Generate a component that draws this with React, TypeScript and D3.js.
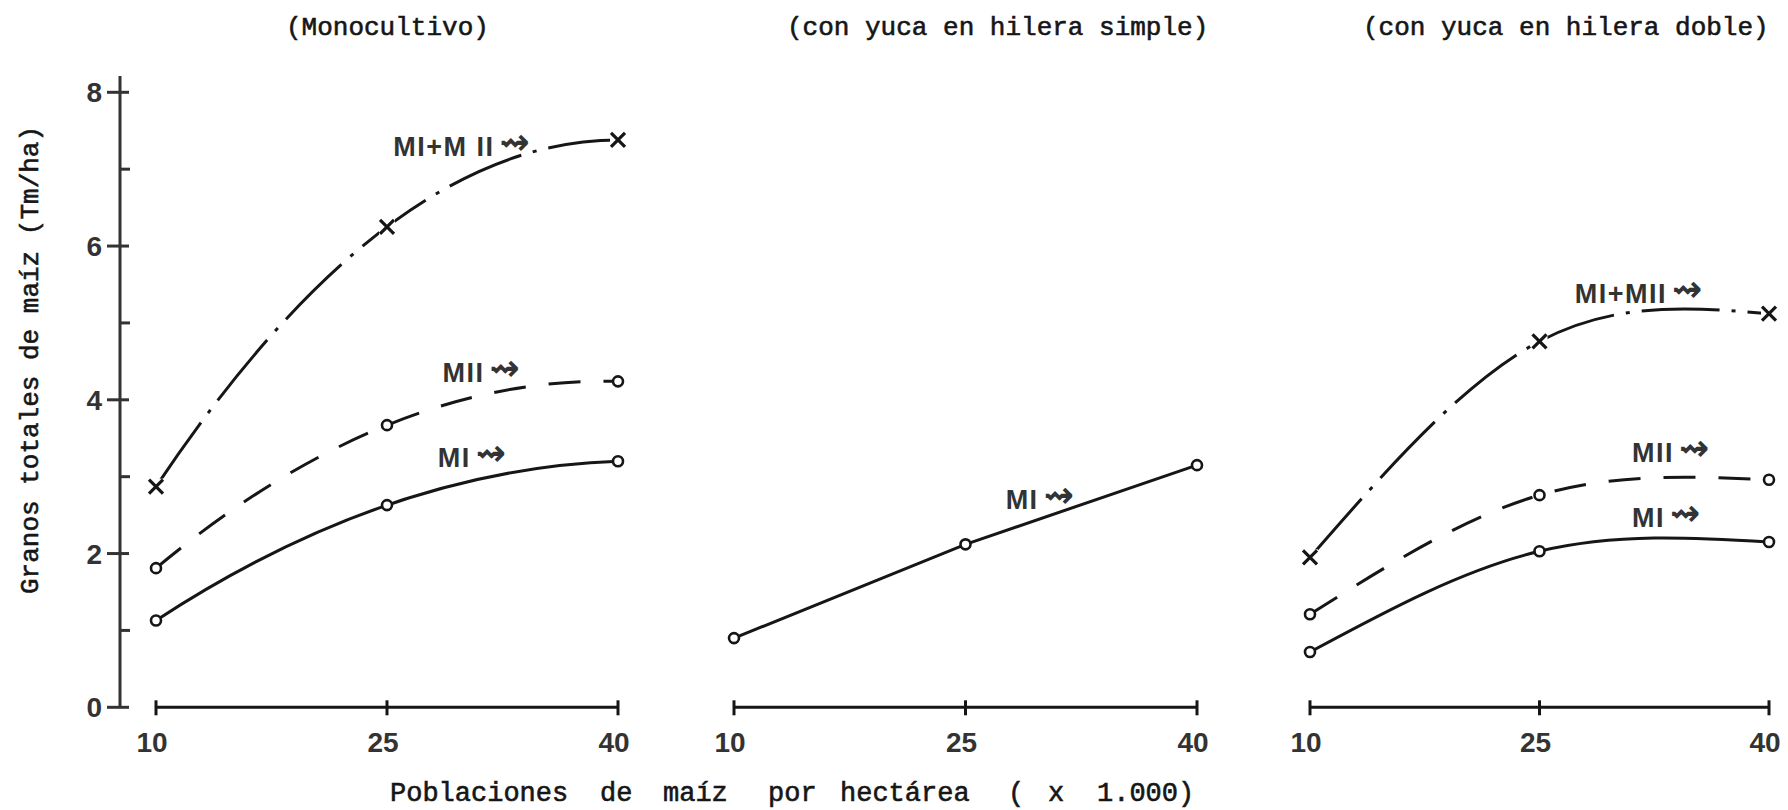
import React from 'react';
import * as d3 from 'd3';

// ---------- data ----------
const populations = [10, 25, 40];
const monoMI = [1.13, 2.63, 3.2];
const monoMII = [1.81, 3.67, 4.24];
const monoTotal = [2.87, 6.25, 7.38];
const simpleMI = [0.9, 2.12, 3.15];
const dobleMI = [0.72, 2.03, 2.15];
const dobleMII = [1.21, 2.76, 2.96];
const dobleTotal = [1.95, 4.76, 5.12];
const yMajorTicks = [0, 2, 4, 6, 8];
const yMinorTicks = [1, 3, 5, 7];
const xTickLabels = ['10', '25', '40'];
const panelTitles = ['(Monocultivo)', '(con yuca en hilera simple)', '(con yuca en hilera doble)'];
const yTitle = 'Granos totales de maíz (Tm/ha)';
const xTitleWords = ['Poblaciones', 'de', 'maíz', 'por', 'hectárea', '(', 'x', '1.000)'];

// ---------- layout ----------
const W = 1788;
const H = 810;
const panelRanges: [number, number][] = [[156, 618], [734, 1197], [1310, 1769]];
const titleX = [286, 787, 1363];
const xTitleX = [390, 600, 663, 768, 840, 1008, 1048, 1097];
const yAxisX = 120;

const MONO = '"Liberation Mono", "Courier New", monospace';
const SANS = '"Liberation Sans", Arial, sans-serif';

type Series = {
  panel: number;
  values: number[];
  kind: 'solid' | 'dashed' | 'dashdot';
  marker: 'circle' | 'x';
  curve: 'parabola' | 'natural' | 'linear';
  label: string;
  lx: number;
  ly: number;
};

const series: Series[] = [
  { panel: 0, values: monoMI, kind: 'solid', marker: 'circle', curve: 'parabola', label: 'MI', lx: 28.3, ly: 3.13 },
  { panel: 0, values: monoMII, kind: 'dashed', marker: 'circle', curve: 'parabola', label: 'MII', lx: 28.6, ly: 4.23 },
  { panel: 0, values: monoTotal, kind: 'dashdot', marker: 'x', curve: 'parabola', label: 'MI+M II', lx: 25.4, ly: 7.17 },
  { panel: 1, values: simpleMI, kind: 'solid', marker: 'circle', curve: 'linear', label: 'MI', lx: 27.6, ly: 2.58 },
  { panel: 2, values: dobleMI, kind: 'solid', marker: 'circle', curve: 'natural', label: 'MI', lx: 31.05, ly: 2.35 },
  { panel: 2, values: dobleMII, kind: 'dashed', marker: 'circle', curve: 'natural', label: 'MII', lx: 31.05, ly: 3.19 },
  { panel: 2, values: dobleTotal, kind: 'dashdot', marker: 'x', curve: 'natural', label: 'MI+MII', lx: 27.3, ly: 5.26 },
];

const dashFor: Record<string, string | undefined> = {
  solid: undefined,
  dashed: '32 23',
  dashdot: '78 12 4 12',
};

const yScale = d3.scaleLinear().domain([0, 8]).range([707.3, 92.3]);
const xScales = panelRanges.map((r) => d3.scaleLinear().domain([10, 40]).range(r));

function curvePath(s: Series): string {
  const xs = xScales[s.panel];
  const pts: [number, number][] = populations.map((p, i) => [xs(p), yScale(s.values[i])]);
  if (s.curve === 'parabola') {
    // parabola through the three points, drawn as a quadratic Bézier
    const p = d3.path();
    p.moveTo(pts[0][0], pts[0][1]);
    const cx = 2 * pts[1][0] - (pts[0][0] + pts[2][0]) / 2;
    const cy = 2 * pts[1][1] - (pts[0][1] + pts[2][1]) / 2;
    p.quadraticCurveTo(cx, cy, pts[2][0], pts[2][1]);
    return p.toString();
  }
  const line = d3.line().curve(s.curve === 'linear' ? d3.curveLinear : d3.curveNatural);
  return line(pts) || '';
}

export default function App() {
  const ink = '#161616';
  const axisInk = '#333';
  const y0 = yScale(0);
  const typeStroke = { stroke: ink, strokeWidth: 0.6 };
  return (
    <svg
      width={W}
      height={H}
      viewBox={`0 0 ${W} ${H}`}
      style={{ position: 'absolute', left: 0, top: 0, display: 'block', background: '#fff' }}
    >
      <rect x={0} y={0} width={W} height={H} fill="#fff" />

      {/* panel titles */}
      {panelTitles.map((t, i) => (
        <text key={t} x={titleX[i]} y={35} fontFamily={MONO} fontSize={26} fill={ink} {...typeStroke}>
          {t}
        </text>
      ))}

      {/* y axis */}
      <line x1={yAxisX} x2={yAxisX} y1={76} y2={y0} stroke={axisInk} strokeWidth={3} />
      {yMajorTicks.map((t) => (
        <g key={'M' + t}>
          <line x1={yAxisX - 13} x2={yAxisX + 9} y1={yScale(t)} y2={yScale(t)} stroke={axisInk} strokeWidth={3} />
          <text
            x={102}
            y={yScale(t)}
            dy="0.36em"
            textAnchor="end"
            fontFamily={SANS}
            fontWeight="bold"
            fontSize={28}
            fill={axisInk}
          >
            {t}
          </text>
        </g>
      ))}
      {yMinorTicks.map((t) => (
        <line key={'m' + t} x1={yAxisX} x2={yAxisX + 10} y1={yScale(t)} y2={yScale(t)} stroke={axisInk} strokeWidth={3} />
      ))}
      <text
        transform={`translate(38, 360) rotate(-90)`}
        textAnchor="middle"
        fontFamily={MONO}
        fontSize={26}
        fill={ink}
        {...typeStroke}
      >
        {yTitle}
      </text>

      {/* x axes */}
      {xScales.map((xs, pi) => (
        <g key={'xa' + pi}>
          <line x1={xs(10)} x2={xs(40)} y1={y0} y2={y0} stroke={ink} strokeWidth={3} />
          {populations.map((p, i) => (
            <g key={p}>
              <line x1={xs(p)} x2={xs(p)} y1={y0 - 7} y2={y0 + 8} stroke={ink} strokeWidth={3} />
              <text
                x={xs(p) - 4}
                y={752}
                textAnchor="middle"
                fontFamily={SANS}
                fontWeight="bold"
                fontSize={28}
                fill={axisInk}
              >
                {xTickLabels[i]}
              </text>
            </g>
          ))}
        </g>
      ))}

      {/* x axis title */}
      <text y={801} fontFamily={MONO} fontSize={27} fill={ink} {...typeStroke}>
        {xTitleWords.map((w, i) => (
          <tspan key={i} x={xTitleX[i]}>
            {w}
          </tspan>
        ))}
      </text>

      {/* series lines */}
      {series.map((s, si) => (
        <path
          key={'l' + si}
          d={curvePath(s)}
          fill="none"
          stroke={ink}
          strokeWidth={3}
          strokeDasharray={dashFor[s.kind]}
        />
      ))}

      {/* markers */}
      {series.map((s, si) =>
        populations.map((p, i) => {
          const cx = xScales[s.panel](p);
          const cy = yScale(s.values[i]);
          return s.marker === 'circle' ? (
            <circle key={`c${si}-${i}`} cx={cx} cy={cy} r={5} fill="#fff" stroke={ink} strokeWidth={2.6} />
          ) : (
            <g key={`x${si}-${i}`} transform={`translate(${cx},${cy})`}>
              <rect x={-8} y={-8} width={16} height={16} fill="#fff" />
              <path d="M-7,-7L7,7M-7,7L7,-7" stroke={ink} strokeWidth={3.2} />
            </g>
          );
        })
      )}

      {/* series labels */}
      {series.map((s, si) => (
        <text
          key={'t' + si}
          x={xScales[s.panel](s.lx)}
          y={yScale(s.ly)}
          fontFamily={SANS}
          fontWeight="bold"
          fontSize={27}
          letterSpacing={1.5}
          fill="#333"
        >
          {s.label}
          <tspan dx={5} dy={-2} fontFamily='"DejaVu Sans", sans-serif' fontWeight="bold" fontSize={36} letterSpacing={0}>
            ⇝
          </tspan>
        </text>
      ))}
    </svg>
  );
}
